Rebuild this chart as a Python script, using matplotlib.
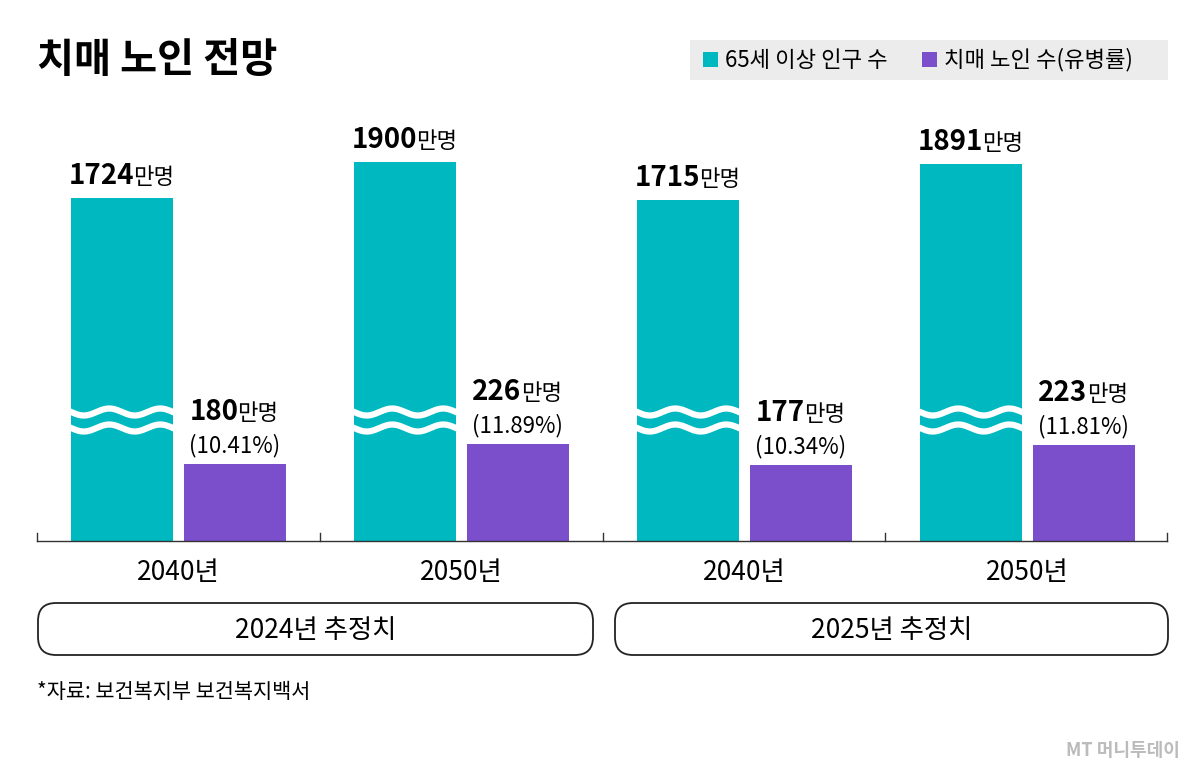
import matplotlib
matplotlib.use("Agg")
import matplotlib.pyplot as plt
import numpy as np
from matplotlib.patches import FancyBboxPatch, Rectangle

plt.rcParams['font.family'] = ['Noto Sans CJK KR', 'DejaVu Sans']

years = ["2040년", "2050년", "2040년", "2050년"]
groups = ["2024년 추정치", "2025년 추정치"]
elderly = [1724, 1900, 1715, 1891]
dementia = [180, 226, 177, 223]
rates = ["(10.41%)", "(11.89%)", "(10.34%)", "(11.81%)"]
legend_labels = ["65세 이상 인구 수", "치매 노인 수(유병률)"]
TEAL = "#00b8c0"
PURPLE = "#7b4fcc"

W, H = 1200, 778
fig = plt.figure(figsize=(12, 7.78), dpi=100)
ax = fig.add_axes([0, 0, 1, 1])
ax.set_xlim(0, W); ax.set_ylim(H, 0); ax.axis('off')
BASE = 541

def h_teal(v):  # broken scale
    return 343 + (v - 1724) * 0.2045
def h_purp(v):
    return 77 + (v - 180) * 0.435

fig.canvas.draw()
r = fig.canvas.get_renderer()

def label(xc, ytop, num, unit, sub=None):
    t1 = ax.text(0, 0, num, fontsize=20, fontweight='bold', va='baseline', ha='left')
    t2 = ax.text(0, 0, unit, fontsize=16, va='baseline', ha='left')
    w1 = t1.get_window_extent(r).width
    w2 = t2.get_window_extent(r).width
    x0 = xc - (w1 + w2) / 2
    yb = ytop - 14 if sub is None else ytop - 44
    t1.set_position((x0, yb)); t2.set_position((x0 + w1 - 1, yb))
    if sub:
        ax.text(xc, ytop - 12, sub, fontsize=16, ha='center', va='baseline')

bw = 102
for i in range(4):
    xc = 37 + 283 * i + 141.5
    xt = xc - 108 + 0.5
    xp = xc + 5
    ht = h_teal(elderly[i]); hp = h_purp(dementia[i])
    ax.bar(xt + bw/2, ht, width=bw, bottom=BASE - ht, color=TEAL, zorder=2)
    ax.bar(xp + bw/2, hp, width=bw, bottom=BASE - hp, color=PURPLE, zorder=2)
    xs = np.linspace(xt - 2, xt + bw + 2, 200)
    for yy in (412, 428):
        ax.plot(xs, yy + 3.5 * np.sin((xs - xt) / bw * 2 * np.pi * 2), color='white', lw=4.5, zorder=3)
    label(xt + bw/2, BASE - ht, str(elderly[i]), "만명")
    label(xp + bw/2, BASE - hp, str(dementia[i]), "만명", rates[i])
    ax.text(xc, 573, years[i], fontsize=19, ha='center', va='center')

ax.plot([37, 1167], [BASE, BASE], color='#333', lw=1, zorder=4)
for x in [37, 320, 603, 885, 1167]:
    ax.plot([x, x], [BASE - 8, BASE], color='#333', lw=1)

for (x0, x1), g in zip([(38, 593), (615, 1168)], groups):
    ax.add_patch(FancyBboxPatch((x0, 603), x1 - x0, 52, boxstyle="round,pad=0,rounding_size=18",
                                fc='white', ec='#222', lw=1.3))
    ax.text((x0 + x1) / 2, 630, g, fontsize=19, ha='center', va='center')

ax.text(37, 60, "치매 노인 전망", fontsize=29, fontweight='bold', va='center', ha='left')

ax.add_patch(Rectangle((690, 40), 478, 40, fc='#ececec', ec='none'))
ax.add_patch(Rectangle((703, 52), 15, 15, fc=TEAL))
ax.text(725, 60, legend_labels[0], fontsize=16, va='center')
ax.add_patch(Rectangle((922, 52), 15, 15, fc=PURPLE))
ax.text(944, 60, legend_labels[1], fontsize=16, va='center')

ax.text(37, 692, "*자료: 보건복지부 보건복지백서", fontsize=15, va='center')
ax.text(1180, 750, "MT 머니투데이", fontsize=13, color='#bbbbbb', ha='right', va='center', fontweight='bold')

fig.savefig("out.png", dpi=100)
